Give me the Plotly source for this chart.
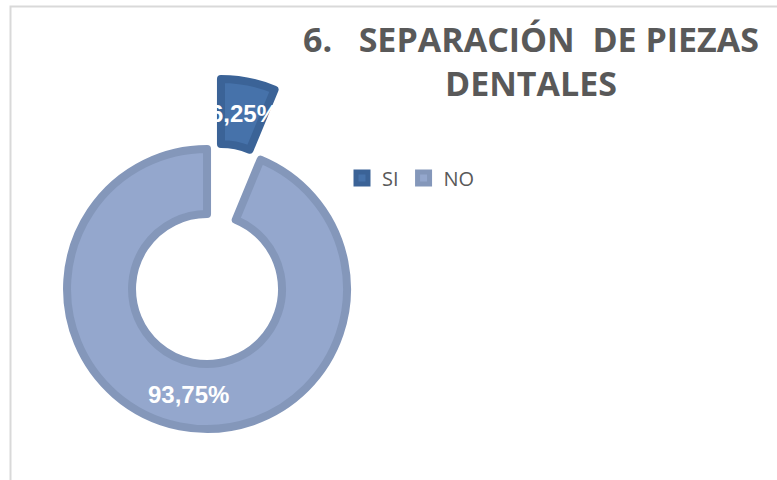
import math
import plotly.graph_objects as go

# data
labels = ["SI", "NO"]
values = [6.25, 93.75]
fill_colors = ["#4672AA", "#94A7CD"]
edge_colors = ["#3B6397", "#8497BA"]
title_text = "6.\u00a0\u00a0\u00a0SEPARACIÓN\u00a0 DE PIEZAS<br>DENTALES"

W, H = 777, 480
EDGE = 8         # width of the darker slice edge
R = 144.0 - EDGE / 2     # geometric radius in px
HOLE = 71.0 + EDGE / 2   # geometric hole radius in px
PULL = 0.255     # both slices exploded
CX, CY = 214.0, 254.0   # centre of the pie box in px

half = R * (1 + PULL)

fig = go.Figure(go.Pie(
    labels=labels,
    values=values,
    sort=False,
    direction="clockwise",
    rotation=0,
    hole=HOLE / R,
    pull=[PULL] * len(values),
    marker=dict(colors=fill_colors, line=dict(color=edge_colors, width=EDGE)),
    textinfo="none",
    hoverinfo="label+percent",
    domain=dict(x=[(CX - half) / W, (CX + half) / W],
                y=[1 - (CY + half) / H, 1 - (CY - half) / H]),
))

# percentage labels in the middle of each ring slice
total = sum(values)
cum = 0
rmid = (R + HOLE) / 2
for v in values:
    mid = math.radians((cum + v / 2) / total * 360)
    cum += v
    sx = CX + PULL * R * math.sin(mid)
    sy = CY - PULL * R * math.cos(mid)
    lx = sx + rmid * math.sin(mid) + 2
    ly = sy - rmid * math.cos(mid)
    txt = f"{v / total * 100:.2f}%".replace(".", ",")
    fig.add_annotation(x=lx / W, y=1 - ly / H, xref="paper", yref="paper",
                       xanchor="center", yanchor="middle",
                       text=f"<b>{txt}</b>", showarrow=False,
                       font=dict(family="Liberation Sans, Arial", size=24, color="white"))

# light frame of the chart area (only top/left edges visible)
fig.add_shape(type="rect", xref="paper", yref="paper",
              x0=10.5 / W, x1=1.1, y0=-0.1, y1=1 - 6.5 / H,
              line=dict(color="#D9D9D9", width=2))

fig.update_layout(
    width=W, height=H,
    margin=dict(l=0, r=0, t=0, b=0),
    paper_bgcolor="white",
    plot_bgcolor="white",
    title=dict(text=f"<b>{title_text}</b>", x=531 / W, xanchor="center",
               y=1 - 52 / H, yanchor="top",
               font=dict(family="Open Sans", size=34, color="#595959")),
    legend=dict(orientation="h", x=342 / W, y=1 - 178 / H, yanchor="middle",
                font=dict(family="Open Sans", size=20, color="#595959"),
                traceorder="normal"),
)

# page body has a default 8px margin; remove it so the figure fills the window
fig.write_html("out.html", config={"displayModeBar": False},
               post_script="document.body.style.margin='0';")
